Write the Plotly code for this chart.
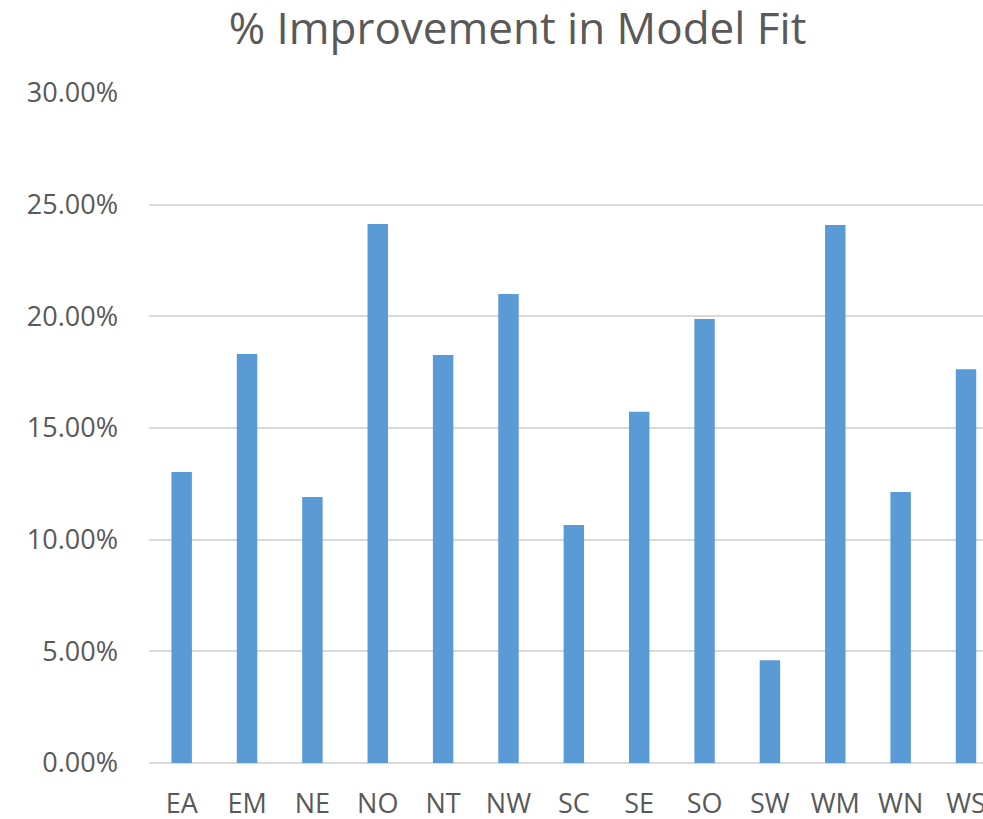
import plotly.graph_objects as go

categories = ["EA", "EM", "NE", "NO", "NT", "NW", "SC", "SE", "SO", "SW", "WM", "WN", "WS"]
improvement = [0.1303, 0.1831, 0.1191, 0.2413, 0.1827, 0.2100, 0.1066, 0.1572, 0.1988, 0.0460, 0.2409, 0.1213, 0.1763]
y_ticks = [0, 0.05, 0.10, 0.15, 0.20, 0.25, 0.30]

fig = go.Figure(go.Bar(
    x=categories,
    y=improvement,
    marker=dict(color="#5B9BD5", line=dict(width=0)),
))

fig.update_layout(
    width=983,
    height=819,
    margin=dict(l=149, r=0, t=92, b=56, autoexpand=False),
    paper_bgcolor="white",
    plot_bgcolor="white",
    bargap=0.687,
    showlegend=False,
    font=dict(family="Open Sans", color="#595959"),
    title=dict(
        text="% Improvement in Model Fit",
        x=517.5 / 983,
        xanchor="center",
        y=1 - 29 / 819,
        yanchor="middle",
        font=dict(family="Open Sans", size=44, color="#595959"),
        automargin=False,
    ),
)

fig.update_xaxes(
    type="category",
    range=[-0.5, 12.26],
    showgrid=False,
    showline=False,
    zeroline=False,
    ticks="",
    tickfont=dict(size=27, color="#595959"),
    ticklabelstandoff=22,
    automargin=False,
)

fig.update_yaxes(
    range=[0, 0.3004],
    tickvals=y_ticks,
    tickformat=".2%",
    showgrid=True,
    gridcolor="#D9D9D9",
    gridwidth=1.5,
    zeroline=True,
    zerolinecolor="#D9D9D9",
    zerolinewidth=2,
    showline=False,
    ticks="",
    tickfont=dict(size=27, color="#595959"),
    ticklabelstandoff=30,
    automargin=False,
)

fig.write_html(
    "out.html",
    config={"displayModeBar": False},
    post_script="document.body.style.margin='0';document.body.style.overflow='hidden';",
)
